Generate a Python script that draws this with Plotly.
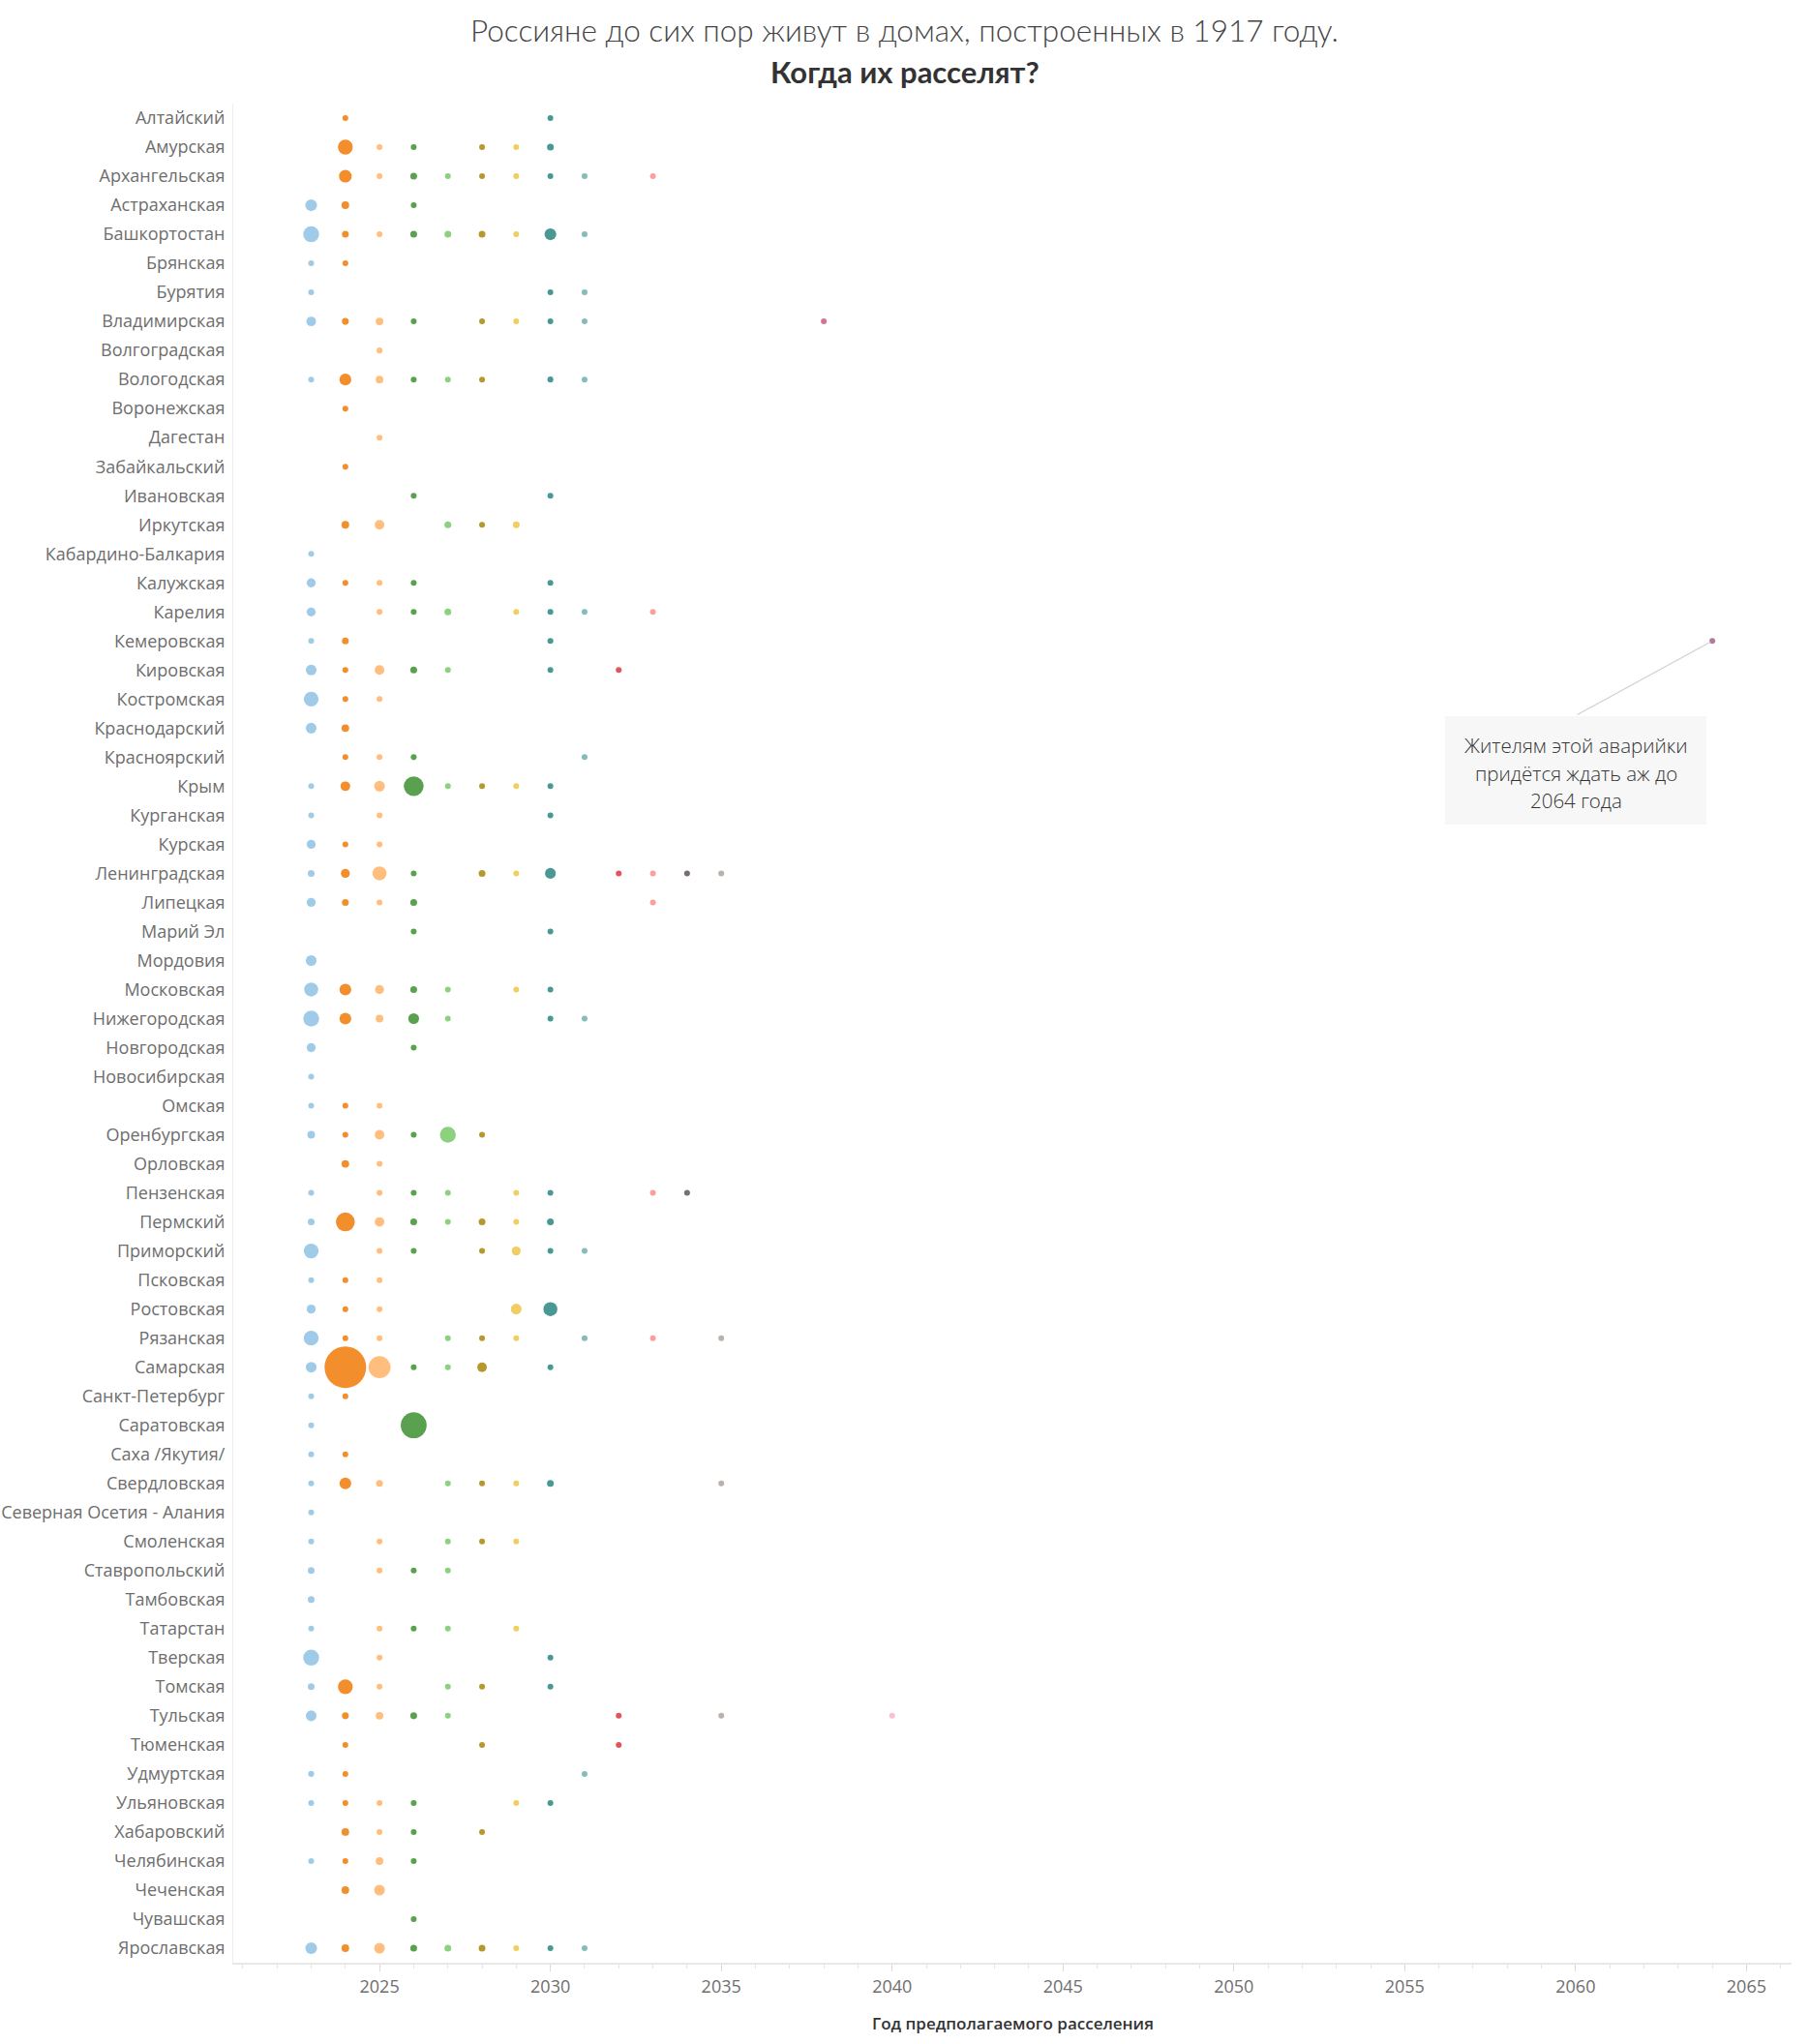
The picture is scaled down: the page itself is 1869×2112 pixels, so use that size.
import plotly.graph_objects as go

regions = [
    "Алтайский", "Амурская", "Архангельская", "Астраханская", "Башкортостан", "Брянская", "Бурятия", "Владимирская",
    "Волгоградская", "Вологодская", "Воронежская", "Дагестан", "Забайкальский", "Ивановская", "Иркутская", "Кабардино-Балкария",
    "Калужская", "Карелия", "Кемеровская", "Кировская", "Костромская", "Краснодарский", "Красноярский", "Крым",
    "Курганская", "Курская", "Ленинградская", "Липецкая", "Марий Эл", "Мордовия", "Московская", "Нижегородская",
    "Новгородская", "Новосибирская", "Омская", "Оренбургская", "Орловская", "Пензенская", "Пермский", "Приморский",
    "Псковская", "Ростовская", "Рязанская", "Самарская", "Санкт-Петербург", "Саратовская", "Саха /Якутия/", "Свердловская",
    "Северная Осетия - Алания", "Смоленская", "Ставропольский", "Тамбовская", "Татарстан", "Тверская", "Томская", "Тульская",
    "Тюменская", "Удмуртская", "Ульяновская", "Хабаровский", "Челябинская", "Чеченская", "Чувашская", "Ярославская",
]

# Number of houses per region and planned resettlement year (rows follow `regions`)
counts_2023 = [0, 0, 0, 12, 22, 1, 1, 8,
               0, 1, 0, 0, 0, 0, 0, 1,
               7, 7, 2, 10, 19, 10, 0, 1,
               1, 7, 4, 7, 0, 10, 17, 22,
               7, 1, 1, 5, 0, 1, 4, 19,
               1, 7, 19, 10, 1, 1, 1, 1,
               1, 1, 4, 4, 1, 22, 4, 10,
               0, 3, 1, 0, 1, 0, 0, 12]
counts_2024 = [1, 19, 14, 5, 4, 1, 0, 4,
               0, 12, 1, 0, 1, 0, 5, 0,
               1, 0, 4, 1, 1, 5, 1, 8,
               0, 1, 7, 4, 0, 0, 12, 12,
               0, 0, 1, 1, 5, 0, 31, 0,
               1, 1, 1, 150, 1, 0, 1, 12,
               0, 0, 0, 0, 0, 0, 19, 4,
               1, 1, 1, 5, 1, 5, 0, 5]
counts_2025 = [0, 2, 1, 0, 1, 0, 0, 5,
               3, 5, 0, 1, 0, 0, 8, 0,
               2, 1, 0, 8, 2, 0, 1, 10,
               1, 2, 17, 1, 0, 0, 7, 5,
               0, 0, 1, 8, 1, 1, 8, 1,
               1, 1, 2, 42, 0, 0, 0, 4,
               0, 1, 1, 0, 1, 1, 1, 5,
               0, 0, 1, 1, 5, 10, 0, 10]
counts_2026 = [0, 1, 4, 1, 4, 0, 0, 1,
               0, 1, 0, 0, 0, 1, 0, 0,
               1, 1, 0, 4, 0, 0, 3, 34,
               0, 0, 1, 4, 2, 0, 4, 10,
               1, 0, 0, 2, 0, 1, 4, 1,
               0, 0, 0, 1, 0, 58, 0, 0,
               0, 0, 2, 0, 1, 0, 0, 4,
               0, 0, 1, 1, 1, 0, 1, 4]
counts_2027 = [0, 0, 1, 0, 4, 0, 0, 0,
               0, 1, 0, 0, 0, 0, 4, 0,
               0, 4, 0, 1, 0, 0, 0, 1,
               0, 0, 0, 0, 0, 0, 1, 1,
               0, 0, 0, 22, 0, 1, 1, 0,
               0, 0, 1, 3, 0, 0, 0, 1,
               0, 1, 1, 0, 1, 0, 1, 1,
               0, 0, 0, 0, 0, 0, 0, 4]
counts_2028 = [0, 1, 1, 0, 4, 0, 0, 1,
               0, 1, 0, 0, 0, 0, 2, 0,
               0, 0, 0, 0, 0, 0, 0, 1,
               0, 0, 4, 0, 0, 0, 0, 0,
               0, 0, 0, 1, 0, 0, 4, 1,
               0, 0, 1, 8, 0, 0, 0, 1,
               0, 1, 0, 0, 0, 0, 1, 0,
               1, 0, 0, 1, 0, 0, 0, 4]
counts_2029 = [0, 1, 1, 0, 1, 0, 0, 1,
               0, 0, 0, 0, 0, 0, 4, 0,
               0, 1, 0, 0, 0, 0, 0, 1,
               0, 0, 1, 0, 0, 0, 1, 0,
               0, 0, 0, 0, 0, 1, 1, 7,
               0, 10, 1, 0, 0, 0, 0, 1,
               0, 1, 0, 0, 1, 0, 0, 0,
               0, 0, 1, 0, 0, 0, 0, 1]
counts_2030 = [1, 4, 1, 0, 12, 0, 1, 1,
               0, 3, 0, 0, 0, 1, 0, 0,
               1, 1, 3, 1, 0, 0, 0, 1,
               1, 0, 10, 0, 1, 0, 1, 1,
               0, 0, 0, 0, 0, 1, 4, 1,
               0, 17, 0, 1, 0, 0, 0, 4,
               0, 0, 0, 0, 0, 1, 1, 0,
               0, 0, 1, 0, 0, 0, 0, 1]
counts_2031 = [0, 0, 1, 0, 1, 0, 1, 1,
               0, 1, 0, 0, 0, 0, 0, 0,
               0, 1, 0, 0, 0, 0, 1, 0,
               0, 0, 0, 0, 0, 0, 0, 1,
               0, 0, 0, 0, 0, 0, 0, 1,
               0, 0, 1, 0, 0, 0, 0, 0,
               0, 0, 0, 0, 0, 0, 0, 0,
               0, 1, 0, 0, 0, 0, 0, 1]
counts_2032 = [0, 0, 0, 0, 0, 0, 0, 0,
               0, 0, 0, 0, 0, 0, 0, 0,
               0, 0, 0, 1, 0, 0, 0, 0,
               0, 0, 2, 0, 0, 0, 0, 0,
               0, 0, 0, 0, 0, 0, 0, 0,
               0, 0, 0, 0, 0, 0, 0, 0,
               0, 0, 0, 0, 0, 0, 0, 1,
               1, 0, 0, 0, 0, 0, 0, 0]
counts_2033 = [0, 0, 1, 0, 0, 0, 0, 0,
               0, 0, 0, 0, 0, 0, 0, 0,
               0, 1, 0, 0, 0, 0, 0, 0,
               0, 0, 1, 1, 0, 0, 0, 0,
               0, 0, 0, 0, 0, 1, 0, 0,
               0, 0, 1, 0, 0, 0, 0, 0,
               0, 0, 0, 0, 0, 0, 0, 0,
               0, 0, 0, 0, 0, 0, 0, 0]
counts_2034 = [0, 0, 0, 0, 0, 0, 0, 0,
               0, 0, 0, 0, 0, 0, 0, 0,
               0, 0, 0, 0, 0, 0, 0, 0,
               0, 0, 1, 0, 0, 0, 0, 0,
               0, 0, 0, 0, 0, 1, 0, 0,
               0, 0, 0, 0, 0, 0, 0, 0,
               0, 0, 0, 0, 0, 0, 0, 0,
               0, 0, 0, 0, 0, 0, 0, 0]
counts_2035 = [0, 0, 0, 0, 0, 0, 0, 0,
               0, 0, 0, 0, 0, 0, 0, 0,
               0, 0, 0, 0, 0, 0, 0, 0,
               0, 0, 1, 0, 0, 0, 0, 0,
               0, 0, 0, 0, 0, 0, 0, 0,
               0, 0, 1, 0, 0, 0, 0, 1,
               0, 0, 0, 0, 0, 0, 0, 1,
               0, 0, 0, 0, 0, 0, 0, 0]
counts_2038 = [0, 0, 0, 0, 0, 0, 0, 1,
               0, 0, 0, 0, 0, 0, 0, 0,
               0, 0, 0, 0, 0, 0, 0, 0,
               0, 0, 0, 0, 0, 0, 0, 0,
               0, 0, 0, 0, 0, 0, 0, 0,
               0, 0, 0, 0, 0, 0, 0, 0,
               0, 0, 0, 0, 0, 0, 0, 0,
               0, 0, 0, 0, 0, 0, 0, 0]
counts_2040 = [0, 0, 0, 0, 0, 0, 0, 0,
               0, 0, 0, 0, 0, 0, 0, 0,
               0, 0, 0, 0, 0, 0, 0, 0,
               0, 0, 0, 0, 0, 0, 0, 0,
               0, 0, 0, 0, 0, 0, 0, 0,
               0, 0, 0, 0, 0, 0, 0, 0,
               0, 0, 0, 0, 0, 0, 0, 1,
               0, 0, 0, 0, 0, 0, 0, 0]
counts_2064 = [0, 0, 0, 0, 0, 0, 0, 0,
               0, 0, 0, 0, 0, 0, 0, 0,
               0, 0, 1, 0, 0, 0, 0, 0,
               0, 0, 0, 0, 0, 0, 0, 0,
               0, 0, 0, 0, 0, 0, 0, 0,
               0, 0, 0, 0, 0, 0, 0, 0,
               0, 0, 0, 0, 0, 0, 0, 0,
               0, 0, 0, 0, 0, 0, 0, 0]

years = [2023, 2024, 2025, 2026, 2027, 2028, 2029, 2030, 2031, 2032, 2033, 2034, 2035, 2038, 2040, 2064]
year_colors = ["#A0CBE8", "#F28E2B", "#FFBE7D", "#59A14F", "#8CD17D", "#B6992D", "#F1CE63", "#499894",
               "#86BCB6", "#E15759", "#FF9D9A", "#79706E", "#BAB0AC", "#D37295", "#FABFD2", "#B07AA1"]
year_counts = [counts_2023, counts_2024, counts_2025, counts_2026, counts_2027, counts_2028, counts_2029,
               counts_2030, counts_2031, counts_2032, counts_2033, counts_2034, counts_2035, counts_2038,
               counts_2040, counts_2064]

x_ticks = [2025, 2030, 2035, 2040, 2045, 2050, 2055, 2060, 2065]

title_line1 = "Россияне до сих пор живут в домах, построенных в 1917 году."
title_line2 = "Когда их расселят?"
x_title = "Год предполагаемого расселения"
note_lines = ["Жителям этой аварийки", "придётся ждать аж до", "2064 года"]
note_year = 2064

W, H = 1869, 2112
ML, MR, MT, MB = 241, 18, 107, 84
plot_w = W - ML - MR
plot_h = H - MT - MB

max_count = max(max(c) for c in year_counts)
max_px = 43
sizeref = 2.0 * max_count / (max_px ** 2)

fig = go.Figure()
for yr, col, vals in zip(years, year_colors, year_counts):
    xs = [yr for v in vals if v > 0]
    ys = [r for r, v in zip(regions, vals) if v > 0]
    ss = [v for v in vals if v > 0]
    fig.add_trace(go.Scatter(
        x=xs, y=ys, mode="markers", name=str(yr), showlegend=False,
        marker=dict(size=ss, sizemode="area", sizeref=sizeref, sizemin=3,
                    color=col, opacity=1, line=dict(width=0)),
        hovertemplate="%{y}<br>%{x}: %{marker.size}<extra></extra>",
    ))

label_font = dict(family="Open Sans", size=18, color="#6e6e6e")

fig.update_layout(
    width=W, height=H, autosize=False,
    margin=dict(l=ML, r=MR, t=MT, b=MB, pad=0, autoexpand=False),
    paper_bgcolor="white", plot_bgcolor="white",
    showlegend=False,
    xaxis=dict(
        range=[2020.72, 2066.32], tickvals=x_ticks, tickformat="d", automargin=False,
        ticks="outside", ticklen=7, tickcolor="#d9d9d9", tickwidth=1,
        showgrid=False, zeroline=False, showline=True, linecolor="#e8e8e8", linewidth=2,
        tickfont=label_font, ticklabelstandoff=0,
        minor=dict(dtick=1, tick0=2025, ticks="outside", ticklen=4, tickcolor="#e3e3e3", showgrid=False),
    ),
    yaxis=dict(
        type="category", categoryorder="array", categoryarray=regions, automargin=False,
        range=[len(regions) - 0.5, -0.5],
        showgrid=False, zeroline=False, showline=True, linecolor="#eeeeee", linewidth=1,
        ticks="", tickfont=label_font, ticklabelstandoff=4,
    ),
)

# titles (page-centred)
fig.add_annotation(text=title_line1, xref="paper", yref="paper",
                   x=(934 - ML) / plot_w, y=1 + (MT - 31) / plot_h,
                   xanchor="center", yanchor="middle", showarrow=False,
                   font=dict(family="Lato", size=31.5, color="#444444", weight=300))
fig.add_annotation(text=title_line2, xref="paper", yref="paper",
                   x=(934.5 - ML) / plot_w, y=1 + (MT - 74) / plot_h,
                   xanchor="center", yanchor="middle", showarrow=False,
                   font=dict(family="Lato", size=31, color="#333333", weight=700))
fig.add_annotation(text=x_title, xref="paper", yref="paper",
                   x=0.5, y=-(2090 - (H - MB)) / plot_h,
                   xanchor="center", yanchor="middle", showarrow=False,
                   font=dict(family="Open Sans", size=17, color="#333333", weight=600))

# callout for the latest year (box, three text lines, leader line)
note_idx = years.index(note_year)
note_region = regions[year_counts[note_idx].index(max(year_counts[note_idx]))]
fig.add_annotation(x=note_year, y=note_region, xref="x", yref="y",
                   text="&nbsp;", showarrow=True, arrowcolor="rgba(0,0,0,0)", arrowwidth=0.1,
                   ax=-141, ay=134, width=270, height=112, borderpad=0, borderwidth=0,
                   bgcolor="#f7f7f7", font=dict(size=4))
for line, dy in zip(note_lines, [108, 137, 165]):
    fig.add_annotation(x=note_year, y=note_region, xref="x", yref="y",
                       text=line, showarrow=True, arrowcolor="rgba(0,0,0,0)", arrowwidth=0.1,
                       ax=-141, ay=dy, xanchor="center", yanchor="middle",
                       font=dict(family="Open Sans", size=20.5, color="#333333", weight=300))
fig.add_annotation(x=note_year, y=note_region, xref="x", yref="y",
                   text="", showarrow=True, arrowhead=0, arrowwidth=1.2, arrowcolor="#d6ccd3",
                   ax=-141, ay=77, standoff=2, startstandoff=0)

fig.write_html(
    "out.html",
    config={"displayModeBar": False},
    post_script="document.body.style.margin='0px';document.body.style.overflow='hidden';",
)
